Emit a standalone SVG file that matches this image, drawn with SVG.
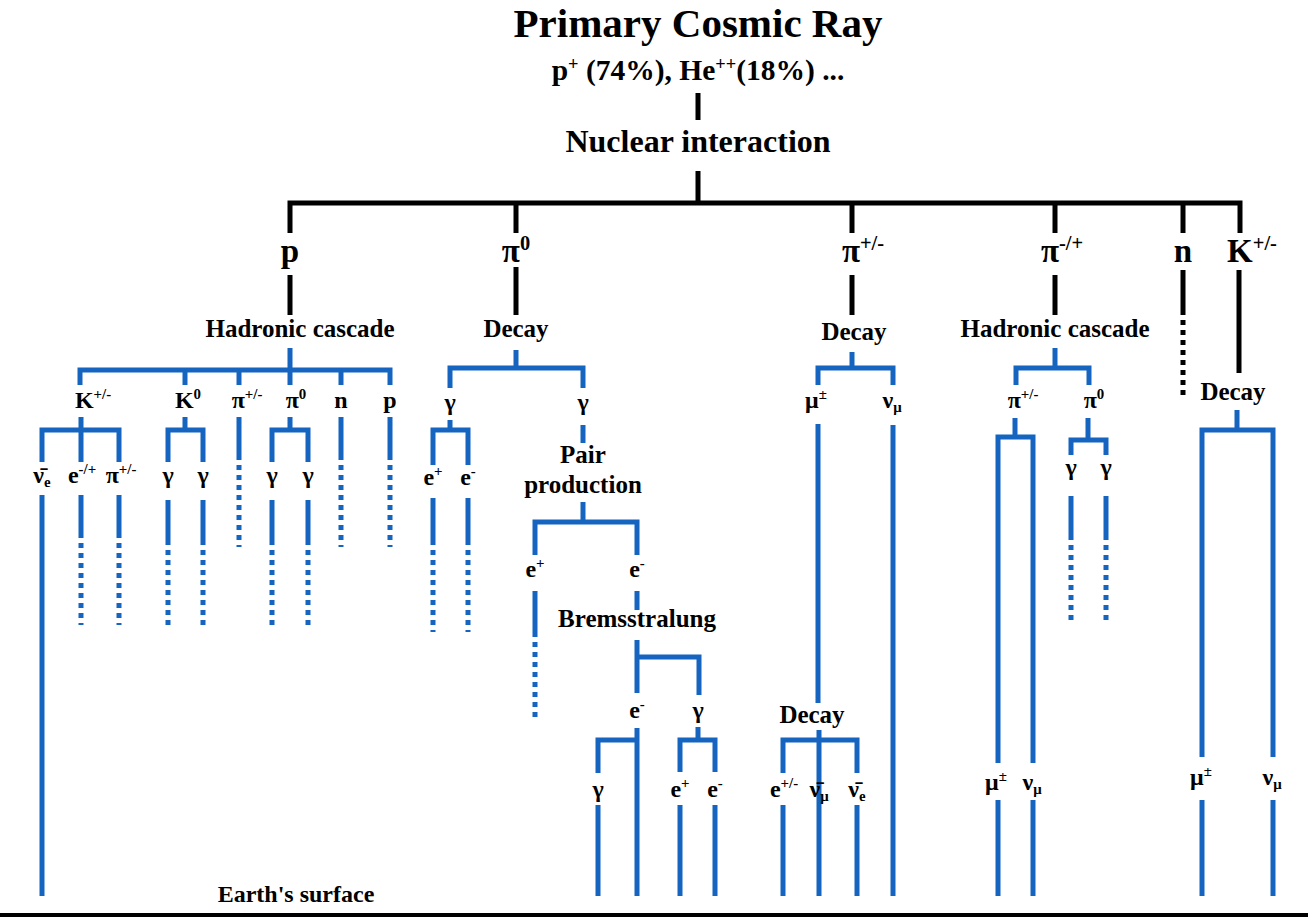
<svg xmlns="http://www.w3.org/2000/svg" width="1308" height="918" viewBox="0 0 1308 918">
<style>
.k{stroke:#000;stroke-width:5;fill:none}
.b{stroke:#1565c0;stroke-width:5;fill:none}
.d{stroke-dasharray:5 5}
.g{stroke:#000;stroke-width:4;fill:none}
text{font-family:"Liberation Serif","Times New Roman",serif;font-weight:bold;fill:#000;text-anchor:middle}
.t0{font-size:41px}
.t1{font-size:29.5px}
.t2{font-size:32px}
.lv{font-size:33px}
.pr{font-size:25px}
.pt{font-size:24px}
.s{font-size:62%}
</style>
<rect width="1308" height="918" fill="#fff"/>
<g id="connectors">
<path class="k" d="M698 93V120M698 171V203M290 233V203H1240V233M516 203V233M852 203V233M1055 203V233M1183 203V233"/>
<path class="k" d="M290 275V315M516 267V315M852 275V315M1055 275V315M1183 270V310M1239 270V373"/>
<path class="k d" d="M1183 310V398"/>
<path class="b" d="M290 348V385M80 385V370H390V385M185 370V385M239 370V385M341 370V385"/>
<path class="b" d="M81 417V462M42 462V430H119V462M42 495V896M81 495V533M119 495V533"/>
<path class="b d" d="M81 533V625M119 533V625"/>
<path class="b" d="M185 417V430M168 462V430H203V462M168 500V540M203 500V540"/>
<path class="b d" d="M168 540V630M203 540V630"/>
<path class="b" d="M239 417V455M341 417V455M390 417V455"/>
<path class="b d" d="M239 455V547M341 455V547M390 455V547"/>
<path class="b" d="M290 417V430M272 462V430H308V462M272 500V540M308 500V540"/>
<path class="b d" d="M272 540V630M308 540V630"/>
<path class="b" d="M516 350V368M450 388V368H583V388"/>
<path class="b" d="M450 420V430M433 465V430H468V465M433 498V540M468 498V540"/>
<path class="b d" d="M433 540V632M468 540V632"/>
<path class="b" d="M583 425V443M583 502V522M535 555V522H637V555M535 591V632M637 591V610"/>
<path class="b d" d="M535 632V718"/>
<path class="b" d="M637 640V693M637 657H699V695M637 728V896M598 773V740H637M698 727V740M680 772V740H715V772M598 805V896M680 805V896M715 805V896"/>
<path class="b" d="M852 352V368M818 385V368H893V385M818 424V703M819 730V896M783 773V740H857V773M783 805V896M857 805V896M893 425V896"/>
<path class="b" d="M1055 348V368M1016 385V368H1089V385M1015 418V437M998 763V437H1033V763M998 800V896M1033 800V896"/>
<path class="b" d="M1088 418V440M1071 455V440H1106V455M1071 496V535M1106 496V535"/>
<path class="b d" d="M1071 535V625M1106 535V625"/>
<path class="b" d="M1237 410V430M1202 757V430H1273V757M1202 800V896M1273 800V896"/>
<path class="g" d="M0 915H1308"/>
</g>
<g id="title"><text class="t0" x="698" y="37">Primary Cosmic Ray</text></g>
<g id="primary"><text class="t1" x="698" y="80">p<tspan class="s" dy="-10">+</tspan><tspan dy="10"> (74%), He</tspan><tspan class="s" dy="-10">++</tspan><tspan dy="10">(18%) ...</tspan></text></g>
<g id="nuclear"><text class="t2" x="698" y="152">Nuclear interaction</text></g>
<g id="lv-p"><text class="lv" x="290" y="262">p</text></g>
<g id="lv-pi0"><text class="lv" x="516" y="262">π<tspan class="s" dy="-12">0</tspan></text></g>
<g id="lv-pipm"><text class="lv" x="863" y="262">π<tspan class="s" dy="-12">+/-</tspan></text></g>
<g id="lv-pimp"><text class="lv" x="1062" y="262">π<tspan class="s" dy="-12">-/+</tspan></text></g>
<g id="lv-n"><text class="lv" x="1183" y="262">n</text></g>
<g id="lv-K"><text class="lv" x="1252" y="262">K<tspan class="s" dy="-12">+/-</tspan></text></g>
<g id="hc1"><text class="pr" x="300" y="337">Hadronic cascade</text></g>
<g id="dec1"><text class="pr" x="516" y="337">Decay</text></g>
<g id="dec2"><text class="pr" x="854" y="340">Decay</text></g>
<g id="hc2"><text class="pr" x="1055" y="337">Hadronic cascade</text></g>
<g id="dec3"><text class="pr" x="1233" y="400">Decay</text></g>
<g id="c-K"><text class="pt" x="93" y="408">K<tspan class="s" dy="-9">+/-</tspan></text></g>
<g id="c-K0"><text class="pt" x="188" y="408">K<tspan class="s" dy="-9">0</tspan></text></g>
<g id="c-pi"><text class="pt" x="247" y="408">π<tspan class="s" dy="-9">+/-</tspan></text></g>
<g id="c-pi0"><text class="pt" x="296" y="408">π<tspan class="s" dy="-9">0</tspan></text></g>
<g id="c-n"><text class="pt" x="341" y="408">n</text></g>
<g id="c-p"><text class="pt" x="390" y="408">p</text></g>
<g id="d-g1"><text class="pt" x="450" y="410">γ</text></g>
<g id="d-g2"><text class="pt" x="583" y="410">γ</text></g>
<g id="m-mu"><text class="pt" x="816" y="408">μ<tspan class="s" dy="-9">±</tspan></text></g>
<g id="m-nu"><text class="pt" x="892" y="408">ν<tspan class="s" dy="4">μ</tspan></text></g>
<g id="h-pi"><text class="pt" x="1023" y="408">π<tspan class="s" dy="-9">+/-</tspan></text></g>
<g id="h-pi0"><text class="pt" x="1094" y="408">π<tspan class="s" dy="-9">0</tspan></text></g>
<g id="k-nue"><text class="pt" x="42" y="483">ν̄<tspan class="s" dy="4">e</tspan></text></g>
<g id="k-e"><text class="pt" x="82" y="483">e<tspan class="s" dy="-9">-/+</tspan></text></g>
<g id="k-pi"><text class="pt" x="121" y="483">π<tspan class="s" dy="-9">+/-</tspan></text></g>
<g id="k0-g1"><text class="pt" x="168" y="483">γ</text></g>
<g id="k0-g2"><text class="pt" x="203" y="483">γ</text></g>
<g id="p0-g1"><text class="pt" x="272" y="483">γ</text></g>
<g id="p0-g2"><text class="pt" x="308" y="483">γ</text></g>
<g id="g1-ep"><text class="pt" x="433" y="485">e<tspan class="s" dy="-9">+</tspan></text></g>
<g id="g1-em"><text class="pt" x="468" y="485">e<tspan class="s" dy="-9">-</tspan></text></g>
<g id="pair"><text class="pr" x="583" y="463">Pair</text><text class="pr" x="583" y="493">production</text></g>
<g id="h0-g1"><text class="pt" x="1071" y="475">γ</text></g>
<g id="h0-g2"><text class="pt" x="1106" y="475">γ</text></g>
<g id="pp-ep"><text class="pt" x="535" y="577">e<tspan class="s" dy="-9">+</tspan></text></g>
<g id="pp-em"><text class="pt" x="637" y="577">e<tspan class="s" dy="-9">-</tspan></text></g>
<g id="brems"><text class="pr" x="637" y="627">Bremsstralung</text></g>
<g id="br-em"><text class="pt" x="637" y="718">e<tspan class="s" dy="-9">-</tspan></text></g>
<g id="br-g"><text class="pt" x="698" y="718">γ</text></g>
<g id="dec4"><text class="pr" x="812" y="723">Decay</text></g>
<g id="b-g"><text class="pt" x="598" y="797">γ</text></g>
<g id="b-ep"><text class="pt" x="680" y="797">e<tspan class="s" dy="-9">+</tspan></text></g>
<g id="b-em"><text class="pt" x="715" y="797">e<tspan class="s" dy="-9">-</tspan></text></g>
<g id="mu-e"><text class="pt" x="784" y="797">e<tspan class="s" dy="-9">+/-</tspan></text></g>
<g id="mu-num"><text class="pt" x="819" y="797">ν̄<tspan class="s" dy="4">μ</tspan></text></g>
<g id="mu-nue"><text class="pt" x="857" y="797">ν̄<tspan class="s" dy="4">e</tspan></text></g>
<g id="h-mu"><text class="pt" x="996" y="790">μ<tspan class="s" dy="-9">±</tspan></text></g>
<g id="h-nu"><text class="pt" x="1032" y="790">ν<tspan class="s" dy="4">μ</tspan></text></g>
<g id="k-mu"><text class="pt" x="1201" y="785">μ<tspan class="s" dy="-9">±</tspan></text></g>
<g id="k-nu"><text class="pt" x="1272" y="785">ν<tspan class="s" dy="4">μ</tspan></text></g>
<g id="earth"><text class="pr" x="296" y="902" style="font-size:24px">Earth's surface</text></g>
</svg>
